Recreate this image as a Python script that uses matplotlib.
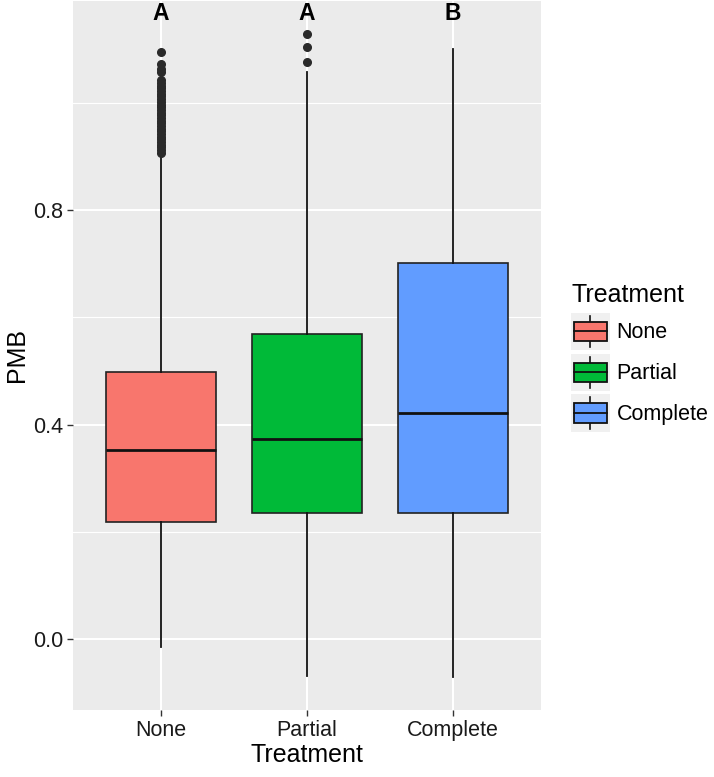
import matplotlib
matplotlib.use("Agg")
import matplotlib.pyplot as plt
from matplotlib.legend_handler import HandlerBase
from matplotlib.patches import Patch, Rectangle
from matplotlib.lines import Line2D

plt.rcParams["font.family"] = ["Liberation Sans", "DejaVu Sans"]

# data
treatments = ["None", "Partial", "Complete"]
colors = ["#F8766D", "#00BA38", "#619CFF"]
q1 = [0.218, 0.236, 0.236]
medians = [0.353, 0.373, 0.421]
q3 = [0.498, 0.569, 0.701]
whisker_low = [-0.014, -0.068, -0.070]
whisker_high = [0.905, 1.058, 1.100]
outliers_none = [0.907, 0.912, 0.917, 0.922, 0.927, 0.932, 0.937, 0.942, 0.947,
                 0.952, 0.957, 0.962, 0.967, 0.972, 0.977, 0.982, 0.987, 0.992,
                 0.997, 1.002, 1.007, 1.012, 1.017, 1.022, 1.027, 1.032, 1.037,
                 1.043, 1.058, 1.064, 1.072, 1.095]
outliers_partial = [1.076, 1.104, 1.129]
outliers_complete = []
letters = ["A", "A", "B"]

outliers = [outliers_none, outliers_partial, outliers_complete]
stats = []
for i in range(3):
    stats.append({"med": medians[i], "q1": q1[i], "q3": q3[i],
                  "whislo": whisker_low[i], "whishi": whisker_high[i],
                  "fliers": outliers[i]})

fig = plt.figure(figsize=(7.14, 7.77), dpi=100)
ax = fig.add_axes([73 / 714, 67 / 777, 468 / 714, 709 / 777])
ax.set_facecolor("#EBEBEB")
for s in ax.spines.values():
    s.set_visible(False)

pos = [1, 2, 3]
bp = ax.bxp(stats, positions=pos, widths=0.75, patch_artist=True, showcaps=False,
            boxprops=dict(edgecolor="#222222", linewidth=1.2),
            whiskerprops=dict(color="#111111", linewidth=1.3),
            medianprops=dict(color="#111111", linewidth=2.0),
            flierprops=dict(marker="o", markerfacecolor="#2a2a2a",
                            markeredgecolor="#2a2a2a", markersize=5.5))
for patch, c in zip(bp["boxes"], colors):
    patch.set_facecolor(c)

for x, t in zip(pos, letters):
    ax.text(x, 1.166, t, ha="center", va="center", fontsize=16.5,
            fontweight="bold", color="black")

ax.set_xlim(0.4, 3.6)
ax.set_ylim(-0.132, 1.190)
ax.set_xticks(pos)
ax.set_xticklabels(treatments)
ax.set_yticks([0.0, 0.4, 0.8])
ax.set_yticklabels(["0.0", "0.4", "0.8"])
ax.set_yticks([0.2, 0.6, 1.0], minor=True)
ax.set_axisbelow(True)
ax.grid(which="major", color="white", linewidth=1.5)
ax.grid(which="minor", axis="y", color="white", linewidth=0.8)
ax.tick_params(axis="both", which="major", length=4, width=1.0, color="#333333",
               labelsize=15.5, labelcolor="#1a1a1a", pad=3)
ax.tick_params(axis="y", which="minor", length=0)
ax.set_xlabel("Treatment", fontsize=18, labelpad=2)
ax.set_ylabel("PMB", fontsize=18, labelpad=3)


class BoxKey(HandlerBase):
    def create_artists(self, legend, orig_handle, xdescent, ydescent,
                       width, height, fontsize, trans):
        x0, y0 = -xdescent, -ydescent
        bg = Rectangle((x0, y0), width, height, facecolor="#F0F0F0",
                       edgecolor="none", transform=trans)
        cx = x0 + width / 2
        wl = Line2D([cx, cx], [y0 + height * 0.08, y0 + height * 0.92],
                    color="#111111", lw=1.2, transform=trans)
        bx = Rectangle((x0 + width * 0.08, y0 + height * 0.24), width * 0.84,
                       height * 0.52, facecolor=orig_handle.get_facecolor(),
                       edgecolor="#111111", lw=1.3, transform=trans)
        md = Line2D([x0 + width * 0.08, x0 + width * 0.92],
                    [y0 + height / 2, y0 + height / 2], color="#111111", lw=1.3,
                    transform=trans)
        return [bg, wl, bx, md]


handles = [Patch(facecolor=c) for c in colors]
leg = fig.legend(handles, treatments, handler_map={Patch: BoxKey()},
                 loc="upper left", bbox_to_anchor=(556 / 714, 1 - 268 / 777),
                 frameon=False, title="Treatment", title_fontsize=18,
                 fontsize=15.5, handlelength=1.8, handleheight=2.3,
                 labelspacing=0.16, handletextpad=0.32, borderpad=0.2)
leg._legend_box.align = "left"
leg._legend_box.sep = 4

fig.savefig("out.png", dpi=100)
